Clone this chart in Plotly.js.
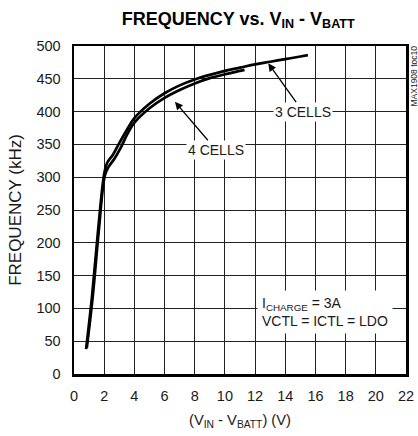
<!DOCTYPE html>
<html><head><meta charset="utf-8">
<script src="https://cdn.plot.ly/plotly-3.0.1.min.js"></script>
<style>html,body{margin:0;padding:0;background:#fff}#c{width:418px;height:436px}</style>
</head><body><div id="c"></div>
<script>
const xTicks = [0,2,4,6,8,10,12,14,16,18,20,22];
const yTicks = [0,50,100,150,200,250,300,350,400,450,500];
const cells3V = [0.8,1.2,1.6,2.0,2.2,2.6,3.0,3.5,4,5,6,7,8,9,10,11,12,13,14,15,15.5];
const cells3F = [38,120,220,305,322,335,352,372,390,412,428,440,449,456,462,467,472,476,480,484,486];
const cells4V = [0.85,1.25,1.65,2.05,2.3,2.7,3.1,3.5,4,5,6,7,8,9,10,11,11.3];
const cells4F = [40,120,220,303,316,329,345,364,383,405,421,433,443,451,457,462,463.5];
const FONT = '"Liberation Sans Narrow","Arial Narrow","Liberation Sans",Arial,sans-serif';
const TXT = '#1a1a1a';

const traces = [
  {x: cells3V, y: cells3F, mode:'lines', line:{color:'#000', width:2.7, shape:'spline'}, name:'3 CELLS'},
  {x: cells4V, y: cells4F, mode:'lines', line:{color:'#000', width:2.7, shape:'spline'}, name:'4 CELLS'}
];
const layout = {
  width:418, height:436,
  margin:{l:74, r:12, t:46, b:62},
  paper_bgcolor:'#fff', plot_bgcolor:'#fff',
  showlegend:false,
  font:{family:FONT, color:TXT, size:14},
  title:{text:'<b>FREQUENCY vs. V<sub>IN</sub> - V<sub>BATT</sub></b>', x:0.57, xanchor:'center', y:0.958, yanchor:'middle',
    font:{family:FONT, size:18, color:'#000'}},
  xaxis:{range:[0,22], tickvals:xTicks, ticktext:xTicks.map(String), showgrid:true, gridcolor:'#222', gridwidth:1,
    zeroline:false, showline:true, linecolor:'#000', linewidth:2.5, mirror:true, ticks:'', ticklen:0,
    ticklabelstandoff:7,
    tickfont:{size:14.5, family:FONT, color:TXT},
    title:{text:'(V<sub>IN</sub> - V<sub>BATT</sub>) (V)', font:{size:14.7, family:FONT, color:TXT}, standoff:12}},
  yaxis:{range:[0,500], tickvals:yTicks, ticktext:yTicks.map(String), showgrid:true, gridcolor:'#222', gridwidth:1,
    zeroline:false, showline:true, linecolor:'#000', linewidth:2.5, mirror:true, ticks:'', ticklen:0,
    ticklabelstandoff:8,
    tickfont:{size:14.5, family:FONT, color:TXT},
    title:{text:'FREQUENCY (kHz)', font:{size:17, family:FONT, color:TXT}, standoff:11}},
  annotations:[
    {x:6.69, y:415, xref:'x', yref:'y', text:'4 CELLS', showarrow:true, arrowhead:2, arrowsize:1.2, arrowwidth:1.3,
     arrowcolor:'#000', ax:41, ay:48, bgcolor:'#fff', font:{size:14, family:FONT, color:TXT}, borderpad:1},
    {x:12.87, y:473.6, xref:'x', yref:'y', text:'3 CELLS', showarrow:true, arrowhead:2, arrowsize:1.2, arrowwidth:1.3,
     arrowcolor:'#000', ax:34.7, ay:48.4, bgcolor:'#fff', font:{size:14, family:FONT, color:TXT}, borderpad:1},
    {x:12.15, y:94.5, xref:'x', yref:'y', xanchor:'left', yanchor:'middle', align:'left', showarrow:false,
     text:'I<sub>CHARGE</sub> = 3A<br>VCTL = ICTL = LDO', bgcolor:'#fff', borderpad:4,
     font:{size:14, family:FONT, color:TXT}},
    {x:1, y:1, xref:'paper', yref:'paper', xanchor:'left', yanchor:'top', xshift:0, yshift:2, textangle:-90,
     text:'MAX1908 toc10', showarrow:false, font:{size:8.5, family:FONT, color:TXT}}
  ]
};
Plotly.newPlot('c', traces, layout, {displayModeBar:false, staticPlot:true});
</script></body></html>
